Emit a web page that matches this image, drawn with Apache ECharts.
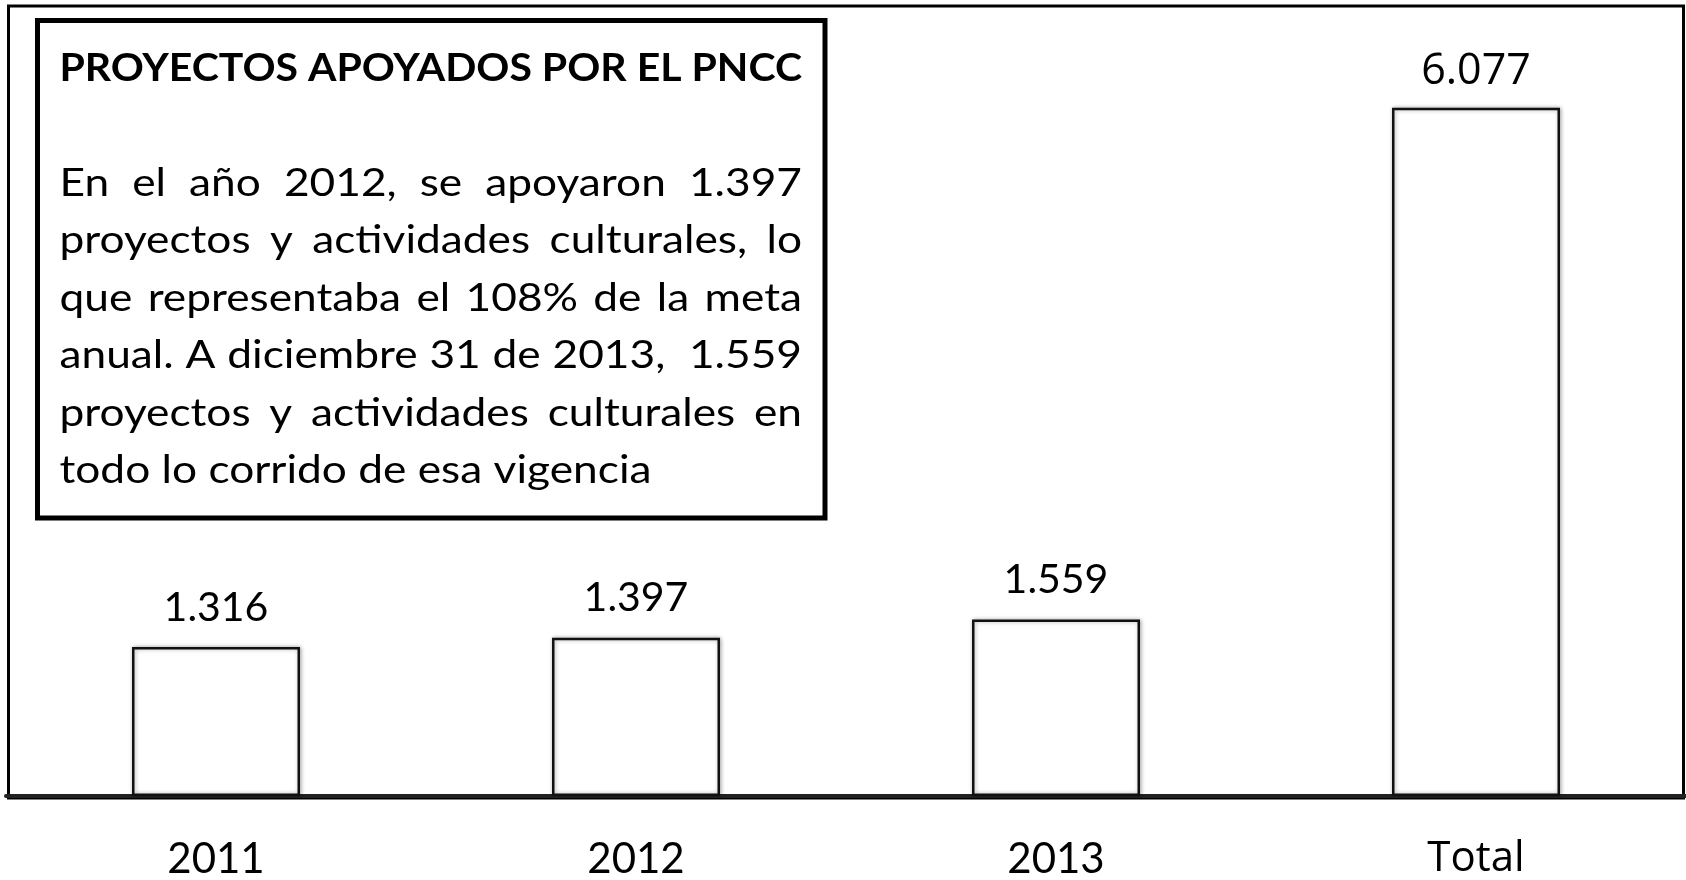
<!DOCTYPE html>
<html>
<head>
<meta charset="utf-8">
<script src="https://cdn.jsdelivr.net/npm/echarts@6/dist/echarts.min.js"></script>
<style>
html,body{margin:0;padding:0;background:#fff;}
#chart{width:1686px;height:880px;}
</style>
</head>
<body>
<div id="chart"></div>
<script>
// ---- data ----
const categories = ['2011', '2012', '2013', 'Total'];
const projects = [1316, 1397, 1559, 6077];
const valueLabels = ['1.316', '1.397', '1.559', '6.077'];
const boxTitle = 'PROYECTOS APOYADOS POR EL PNCC';
const boxLines = [
  'En el año 2012, se apoyaron 1.397',
  'proyectos y actividades culturales, lo',
  'que representaba el 108% de la meta',
  'anual. A diciembre 31 de 2013,  1.559',
  'proyectos y actividades culturales en',
  'todo lo corrido de esa vigencia'
];

// ---- layout / style ----
const BODY_FONT = 'Lato';
const ALT_FONT = 'Open Sans';
const TEXT_SIZE = 39;
const textLeft = 59.5, textRight = 802;
const titleMid = 68;
const firstMid = 183, lineStep = 57.5;

const cvs = document.createElement('canvas');
const ctx = cvs.getContext('2d');
function measure(t, font) { ctx.font = font; return ctx.measureText(t).width; }

const titleFont = 'bold ' + TEXT_SIZE + 'px ' + BODY_FONT;
const bodyFont = TEXT_SIZE + 'px ' + BODY_FONT;
// horizontal condensing so the Lato text matches the narrower original face
const titleScale = (textRight - textLeft) / measure(boxTitle, titleFont);
const bodyScale = 592 / measure(boxLines[boxLines.length - 1], bodyFont);

const graphics = [];
// outer frame
graphics.push({
  type: 'rect', z: 0, silent: true,
  shape: { x: 8.5, y: 6, width: 1675, height: 792 },
  style: { fill: 'none', stroke: '#000', lineWidth: 3 }
});
// text box
graphics.push({
  type: 'rect', z: 10, silent: true,
  shape: { x: 37.5, y: 20.5, width: 787.5, height: 497.5 },
  style: { fill: '#fff', stroke: '#000', lineWidth: 5 }
});
graphics.push({
  type: 'text', z: 11, silent: true, x: textLeft, y: titleMid, scaleX: titleScale,
  style: { text: boxTitle, font: titleFont, fill: '#000', textAlign: 'left', verticalAlign: 'middle' }
});
boxLines.forEach((line, li) => {
  const y = firstMid + li * lineStep;
  if (li === boxLines.length - 1) {
    graphics.push({
      type: 'text', z: 11, silent: true, x: textLeft, y: y, scaleX: bodyScale,
      style: { text: line, font: bodyFont, fill: '#000', textAlign: 'left', verticalAlign: 'middle' }
    });
    return;
  }
  const parts = line.split(' ');
  const words = [];
  const gaps = [];
  let pending = 0;
  parts.forEach(p => {
    if (p === '') { pending++; return; }
    if (words.length) gaps.push(pending + 1);
    words.push(p);
    pending = 0;
  });
  const widths = words.map(w => measure(w, bodyFont) * bodyScale);
  const total = widths.reduce((a, b) => a + b, 0);
  const nSpaces = gaps.reduce((a, b) => a + b, 0);
  const sp = (textRight - textLeft - total) / nSpaces;
  let x = textLeft;
  words.forEach((w, i) => {
    graphics.push({
      type: 'text', z: 11, silent: true, x: x, y: y, scaleX: bodyScale,
      style: { text: w, font: bodyFont, fill: '#000', textAlign: 'left', verticalAlign: 'middle' }
    });
    x += widths[i] + (i < gaps.length ? gaps[i] * sp : 0);
  });
});

const chart = echarts.init(document.getElementById('chart'));
chart.setOption({
  animation: false,
  backgroundColor: '#fff',
  grid: { left: 6, width: 1683, top: 6, bottom: 82, containLabel: false },
  xAxis: {
    type: 'category',
    data: categories,
    axisLine: { show: true, lineStyle: { color: '#222', width: 4 } },
    axisTick: { show: false },
    axisLabel: {
      margin: 42,
      color: '#000',
      formatter: (v, i) => (i === categories.length - 1 ? '{t|' + v + '}' : '{y|' + v + '}'),
      rich: {
        y: { fontFamily: BODY_FONT, fontSize: 42, color: '#000' },
        t: { fontFamily: ALT_FONT, fontSize: 42, color: '#000' }
      }
    }
  },
  yAxis: {
    type: 'value', min: 0, max: 6975, show: false,
    splitLine: { show: false }
  },
  series: [{
    type: 'bar',
    barWidth: 168,
    data: projects.map((v, i) => ({
      value: v,
      label: i === projects.length - 1 ? { fontFamily: ALT_FONT, fontSize: 43, distance: 14 } : {}
    })),
    itemStyle: {
      color: '#fff', borderColor: '#111', borderWidth: 2.5,
      shadowBlur: 4, shadowColor: 'rgba(0,0,0,0.3)', shadowOffsetX: 1
    },
    label: {
      show: true, position: 'top', distance: 19,
      color: '#000', fontFamily: BODY_FONT, fontSize: 41,
      formatter: p => valueLabels[p.dataIndex]
    },
    z: 3
  }],
  graphic: graphics
});
</script>
</body>
</html>
